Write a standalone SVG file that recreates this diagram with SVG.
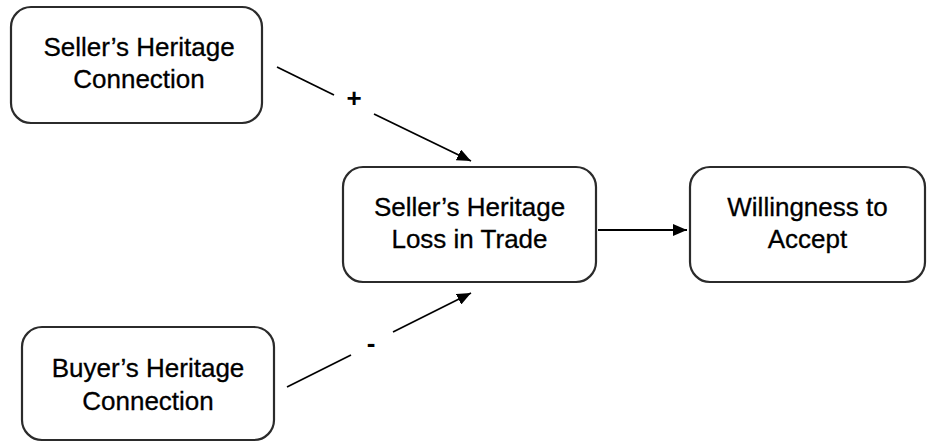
<svg xmlns="http://www.w3.org/2000/svg" width="935" height="443" viewBox="0 0 935 443">
<defs>
<style>
.box{fill:#fff;stroke:#2b2b2b;stroke-width:2.2}
.t{font-family:"Liberation Sans",Arial,sans-serif;font-size:26px;fill:#000;stroke:#000;stroke-width:0.3;text-anchor:middle}
.c{stroke:#000;stroke-width:1.8;fill:none}
.lbl{font-family:"Liberation Sans",Arial,sans-serif;font-size:26px;font-weight:bold;fill:#000;text-anchor:middle}
</style>
<marker id="ah" viewBox="0 0 14 12" refX="14" refY="6" markerWidth="14" markerHeight="12" markerUnits="userSpaceOnUse" orient="auto">
<path d="M0,0 L14,6 L0,12 Z" fill="#000"/>
</marker>
</defs>
<rect width="935" height="443" fill="#fff"/>
<g id="seller-connection">
<rect class="box" x="11" y="7" width="251" height="116" rx="20"/>
<text class="t" x="139" y="56">Seller’s Heritage</text>
<text class="t" x="139" y="88">Connection</text>
</g>
<g id="seller-loss">
<rect class="box" x="343" y="167" width="253" height="115" rx="20"/>
<text class="t" x="469.5" y="216">Seller’s Heritage</text>
<text class="t" x="469.5" y="248">Loss in Trade</text>
</g>
<g id="wta">
<rect class="box" x="690" y="167" width="235" height="115" rx="20"/>
<text class="t" x="807.5" y="216">Willingness to</text>
<text class="t" x="807.5" y="248">Accept</text>
</g>
<g id="buyer-connection">
<rect class="box" x="22" y="327" width="252" height="113" rx="20"/>
<text class="t" x="148" y="377">Buyer’s Heritage</text>
<text class="t" x="148" y="410">Connection</text>
</g>
<g id="connectors">
<line class="c" x1="277" y1="67" x2="334" y2="95"/>
<line class="c" x1="374" y1="114" x2="471" y2="161" marker-end="url(#ah)"/>
<text class="lbl" x="354" y="107">+</text>
<line class="c" x1="287" y1="387" x2="351" y2="355"/>
<line class="c" x1="393" y1="332" x2="471" y2="293" marker-end="url(#ah)"/>
<text class="lbl" x="371" y="352">-</text>
<line class="c" x1="598" y1="230" x2="687" y2="230" marker-end="url(#ah)"/>
</g>
</svg>
